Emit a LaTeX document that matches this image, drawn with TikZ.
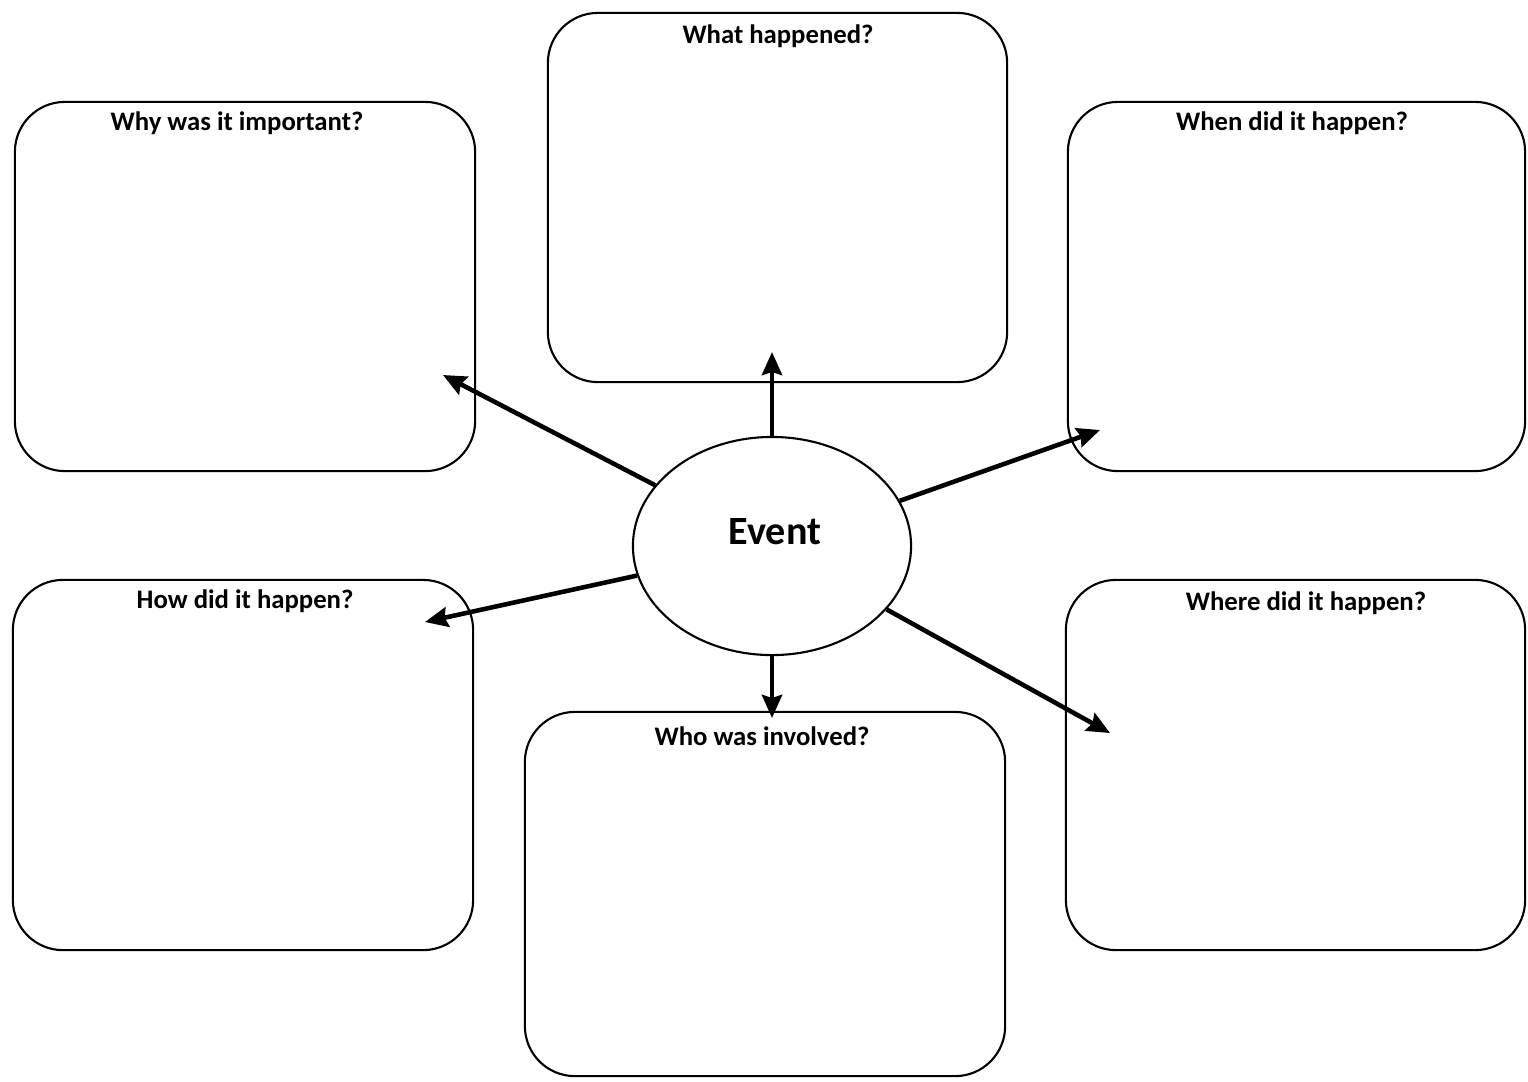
\documentclass[tikz,border=0pt]{standalone}
\usepackage{fontspec}
\setmainfont{Carlito}
\usepackage{tikz}
\usetikzlibrary{shapes.geometric, arrows.meta, positioning}

\begin{document}
\begin{tikzpicture}[x=0.01cm, y=-0.01cm,
  qbox/.style={draw, line width=0.6pt, rounded corners=0.5cm, inner sep=0pt},
  qlabel/.style={font=\fontsize{7.6}{9}\selectfont\bfseries, inner sep=0pt},
  spoke/.style={-{Stealth[length=2.3mm, width=2mm, inset=0.3mm]}, line width=1.3pt},
]
\useasboundingbox (0,0) rectangle (1528,1081);

% Question boxes
\node[qbox, minimum width=4.59cm, minimum height=3.69cm] (what)  at (777.5,197.5) {};
\node[qbox, minimum width=4.60cm, minimum height=3.69cm] (why)   at (245,286.5) {};
\node[qbox, minimum width=4.57cm, minimum height=3.69cm] (when)  at (1296.5,286.5) {};
\node[qbox, minimum width=4.60cm, minimum height=3.70cm] (how)   at (243,765) {};
\node[qbox, minimum width=4.80cm, minimum height=3.64cm] (who)   at (765,894) {};
\node[qbox, minimum width=4.59cm, minimum height=3.70cm] (where) at (1295.5,765) {};

% Box titles
\node[qlabel] (whatlab)  at (778,36)   {What happened?};
\node[qlabel] (whylab)   at (237,123)  {Why was it important?};
\node[qlabel] (whenlab)  at (1292,123) {When did it happen?};
\node[qlabel] (howlab)   at (245,601)  {How did it happen?};
\node[qlabel] (wholab)   at (762,736)  {Who was involved?};
\node[qlabel] (wherelab) at (1306,603) {Where did it happen?};

% Centre
\node[draw, ellipse, fill=white, line width=0.6pt, minimum width=2.78cm, minimum height=2.18cm,
      inner sep=0pt] (event) at (772,546) {};
\node[font=\fontsize{11.4}{13}\selectfont\bfseries, inner sep=0pt] (eventlab) at (775,532) {Event};

% Arrow ends
\coordinate (whattip)  at (772,352);
\coordinate (whytip)   at (443,375);
\coordinate (whentip)  at (1100,430);
\coordinate (howtip)   at (425,622);
\coordinate (wheretip) at (1110,733);
\coordinate (whotip)   at (772,718);

% Arrows
\draw[spoke] (event) -- (whattip);
\draw[spoke] (event) -- (whytip);
\draw[spoke] (event) -- (whentip);
\draw[spoke] (event) -- (howtip);
\draw[spoke] (event) -- (wheretip);
\draw[spoke] (event) -- (whotip);
\end{tikzpicture}
\end{document}
